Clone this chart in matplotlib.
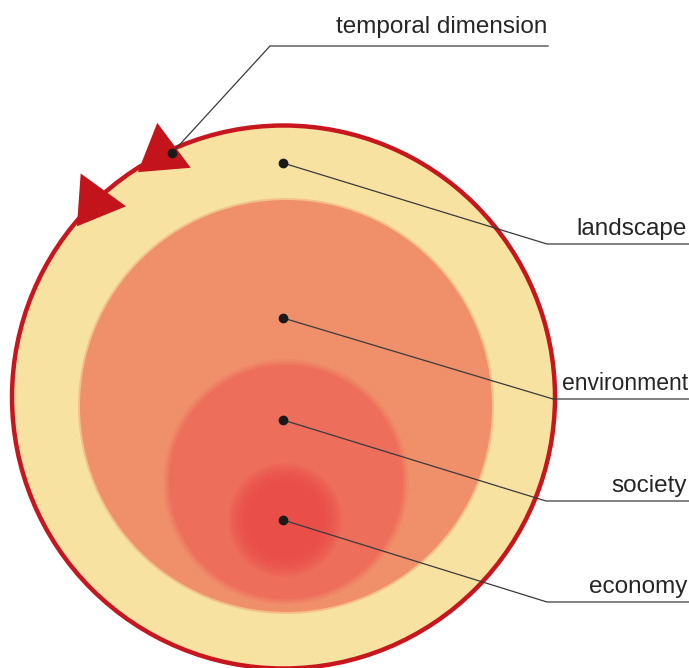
import numpy as np
import matplotlib
matplotlib.use("Agg")
import matplotlib.pyplot as plt
from matplotlib.patches import Circle, Polygon

# ---- data (diagram geometry in pixel units) ----
labels = ["landscape", "environment", "society", "economy"]
label_right = [687, 688, 687, 687]
label_size = [17.5, 16.5, 17.5, 17.5]
dot_x = [283, 283, 283, 283]
dot_y = [163, 318, 420, 520]
kink_x = [547, 553, 546, 547]
line_y = [244, 399, 501, 602]

temporal_label = "temporal dimension"
temporal_dot = (172, 153)
temporal_kink = (270, 46)
temporal_line_end = 548

outer_center = (283.5, 397)
outer_radius = 271.5
env_center = (286, 406)
env_radius = 206
soc_center = (286, 482)
soc_radius = 117
eco_center = (285, 520)
eco_radius = 57

arrow_angles = [116.6, 134.1]  # degrees, positions on outer circle
arrow_len = 45
arrow_width = 56
arrow_tilt = 10  # degrees inward

W, H = 689, 668
fig = plt.figure(figsize=(W / 100, H / 100), dpi=100)
ax = fig.add_axes([0, 0, 1, 1])
ax.set_xlim(0, W)
ax.set_ylim(H, 0)
ax.axis("off")

YELLOW = "#f7e2a2"
RED = "#c8161e"
ENV = "#f0906a"
SOC = "#ee6e5c"
ECO = "#ea4a48"
LINE = "#3a3a3a"
TEXT = "#262626"

ax.add_patch(Circle(outer_center, outer_radius, facecolor=YELLOW, edgecolor=RED,
                    linewidth=3.2, zorder=1))
# environment with slightly soft edge
ax.add_patch(Circle(env_center, env_radius + 2, facecolor=ENV, edgecolor="none", alpha=0.4, zorder=2))
ax.add_patch(Circle(env_center, env_radius, facecolor=ENV, edgecolor="none", zorder=2))
# society with soft edge
for k, a in zip([6, 4, 2, 0], [0.2, 0.3, 0.45, 1.0]):
    ax.add_patch(Circle(soc_center, soc_radius + k, facecolor=SOC, edgecolor="none", alpha=a, zorder=3))
# economy: soft-edged disc
n = 10
for i in range(n):
    r = eco_radius * (1 - i / n * 0.4)
    ax.add_patch(Circle(eco_center, r, facecolor=ECO, edgecolor="none", alpha=0.16, zorder=4))

# arrows on outer circle
cx, cy = outer_center
for th in arrow_angles:
    t = np.radians(th)
    c = np.array([cx + outer_radius * np.cos(t), cy - outer_radius * np.sin(t)])
    tang = np.array([-np.sin(t), -np.cos(t)])
    inward = np.array([-np.cos(t), np.sin(t)])
    a = np.radians(arrow_tilt)
    d = tang * np.cos(a) + inward * np.sin(a)
    nrm = np.array([-d[1], d[0]])
    tip = c + d * (2 * arrow_len / 3)
    b1 = c - d * (arrow_len / 3) + nrm * arrow_width / 2
    b2 = c - d * (arrow_len / 3) - nrm * arrow_width / 2
    ax.add_patch(Polygon([tip, b1, b2], closed=True, facecolor="#c3141c",
                         edgecolor="none", zorder=6))

FONT = ["Liberation Sans Narrow", "Liberation Sans", "DejaVu Sans"]
FS = 17.5

# leader lines and labels
for lab, rx, fs, x0, y0, kx, ly in zip(labels, label_right, label_size,
                                       dot_x, dot_y, kink_x, line_y):
    ax.plot([x0, kx, W], [y0, ly, ly], color=LINE, lw=0.9, zorder=7,
            solid_joinstyle="miter")
    ax.plot([x0], [y0], "o", color="#1a1a1a", ms=6, zorder=8)
    ax.text(rx, ly - 9, lab, ha="right", va="baseline", fontsize=fs,
            family=FONT, color=TEXT, zorder=9)

tx, ty = temporal_dot
kx, ky = temporal_kink
ax.plot([tx, kx, temporal_line_end], [ty, ky, ky], color=LINE, lw=0.9, zorder=7)
ax.plot([tx], [ty], "o", color="#1a1a1a", ms=6, zorder=8)
ax.text(547, ky - 13, temporal_label, ha="right", va="baseline", fontsize=FS,
        family=FONT, color=TEXT, zorder=9)

fig.savefig("out.png", dpi=100, facecolor="white")
